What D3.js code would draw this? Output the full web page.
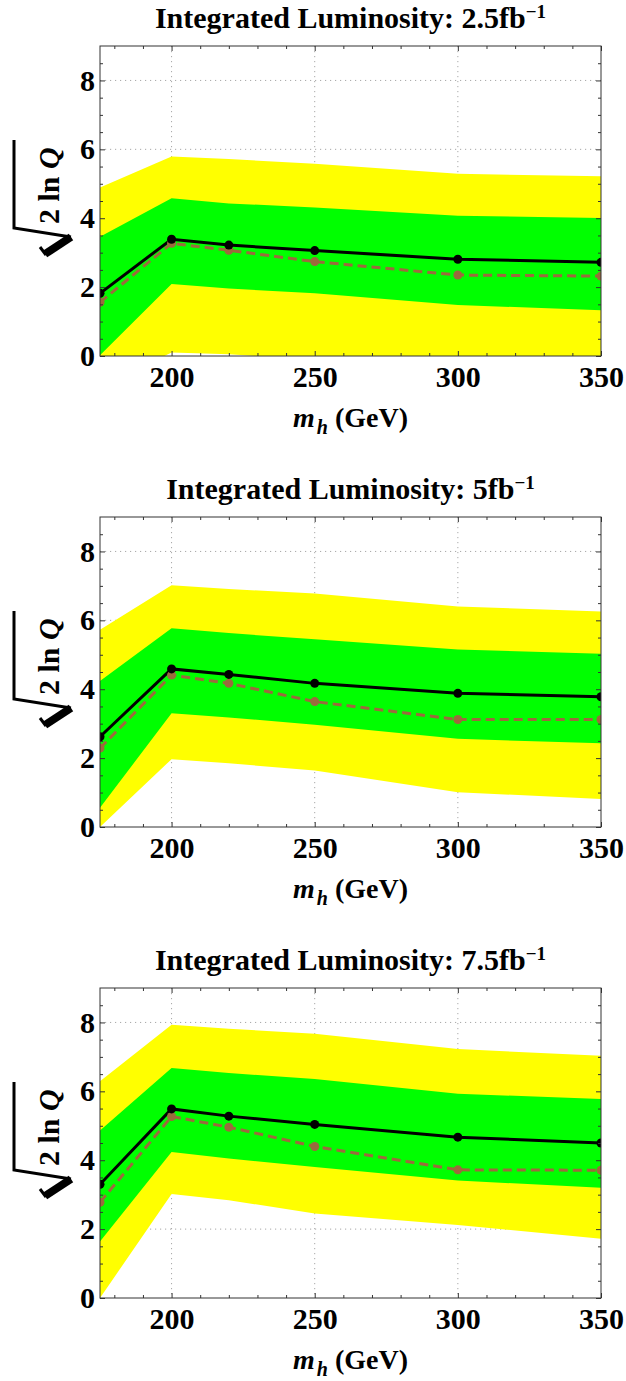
<!DOCTYPE html>
<html lang="en">
<head>
<meta charset="utf-8">
<title>sqrt(2 ln Q) vs m_h</title>
<script src="https://cdn.jsdelivr.net/npm/d3@7"></script>
<style>
  body { margin: 0; background: #ffffff; }
  .grid line { stroke: #a8a8a8; stroke-width: 1; stroke-dasharray: 1.2,3.8; }
  .tick line { stroke: #333; }
</style>
</head>
<body>
<svg id="chart"></svg>
<script>
// higgs masses (GeV) where the points sit
var masses = [175, 200, 220, 250, 300, 350];
var lumiLabels = ["2.5", "5", "7.5"];

// black solid line, one row per luminosity
var solidLine = [
  [1.82, 3.39, 3.22, 3.06, 2.81, 2.72],
  [2.62, 4.59, 4.43, 4.17, 3.88, 3.78],
  [3.30, 5.49, 5.28, 5.04, 4.67, 4.50]
];
// brown dashed line
var dashedLine = [
  [1.56, 3.27, 3.07, 2.74, 2.35, 2.32],
  [2.29, 4.41, 4.17, 3.64, 3.12, 3.12],
  [2.78, 5.27, 4.96, 4.40, 3.72, 3.71]
];
// 1 sigma band (green)
var greenHi = [
  [3.46, 4.58, 4.43, 4.31, 4.07, 4.01],
  [4.24, 5.77, 5.63, 5.45, 5.15, 5.03],
  [4.86, 6.68, 6.53, 6.36, 5.93, 5.78]
];
var greenLo = [
  [0.02, 2.09, 1.96, 1.82, 1.48, 1.33],
  [0.56, 3.30, 3.18, 2.97, 2.56, 2.43],
  [1.64, 4.24, 4.05, 3.80, 3.41, 3.20]
];
// 2 sigma band (yellow)
var yellowHi = [
  [4.89, 5.79, 5.72, 5.58, 5.29, 5.22],
  [5.73, 7.02, 6.91, 6.78, 6.40, 6.26],
  [6.29, 7.93, 7.82, 7.67, 7.23, 7.03]
];
var yellowLo = [
  [-0.9, 0.10, 0.05, -0.10, -0.30, -0.50],
  [0.00, 1.97, 1.85, 1.64, 1.01, 0.81],
  [0.00, 3.02, 2.84, 2.45, 2.12, 1.72]
];

var xMajor = [200, 250, 300, 350];
var yMajor = [0, 2, 4, 6, 8];

var FONT = "'Liberation Serif', 'Times New Roman', Times, serif";

var svgWidth = 626, svgHeight = 1381;
var margin = { top: 46, left: 100 };
var width = 501, height = 310;
var panelStep = 471;

var svg = d3.select("#chart")
    .attr("width", svgWidth)
    .attr("height", svgHeight);

var xScale = d3.scaleLinear().domain([175, 350]).range([0, width]);
var yScale = d3.scaleLinear().domain([0, 9]).range([height, 0]);

var xMinor = d3.range(180, 350, 10).filter(function(v) { return xMajor.indexOf(v) < 0; });
var yMinor = d3.range(0.5, 9, 0.5).filter(function(v) { return yMajor.indexOf(v) < 0; });

lumiLabels.forEach(function(lumi, p) {
  var top = margin.top + p * panelStep;

  var g = svg.append("g")
      .attr("transform", "translate(" + margin.left + "," + top + ")");

  g.append("clipPath").attr("id", "clip" + p)
    .append("rect").attr("width", width).attr("height", height);

  // grid lines
  var grid = g.append("g").attr("class", "grid");
  grid.selectAll("line.gx").data([200, 250, 300]).enter().append("line")
      .attr("x1", function(d) { return xScale(d); })
      .attr("x2", function(d) { return xScale(d); })
      .attr("y1", 0).attr("y2", height);
  grid.selectAll("line.gy").data([2, 4, 6, 8]).enter().append("line")
      .attr("y1", function(d) { return yScale(d); })
      .attr("y2", function(d) { return yScale(d); })
      .attr("x1", 0).attr("x2", width);

  var plot = g.append("g").attr("clip-path", "url(#clip" + p + ")");

  function band(lo, hi) {
    return d3.area()
      .x(function(d, i) { return xScale(masses[i]); })
      .y0(function(d, i) { return yScale(lo[i]); })
      .y1(function(d, i) { return yScale(hi[i]); })(masses);
  }

  plot.append("path").attr("d", band(yellowLo[p], yellowHi[p])).attr("fill", "#ffff00");
  plot.append("path").attr("d", band(greenLo[p], greenHi[p])).attr("fill", "#00ff00");

  var line = d3.line()
      .x(function(d, i) { return xScale(masses[i]); })
      .y(function(d) { return yScale(d); });

  plot.append("path").attr("d", line(dashedLine[p]))
      .attr("fill", "none").attr("stroke", "#9b6a3d")
      .attr("stroke-width", 3).attr("stroke-dasharray", "9,5");
  plot.append("path").attr("d", line(solidLine[p]))
      .attr("fill", "none").attr("stroke", "#000")
      .attr("stroke-width", 3);

  plot.selectAll("circle.dash").data(dashedLine[p]).enter().append("circle")
      .attr("cx", function(d, i) { return xScale(masses[i]); })
      .attr("cy", function(d) { return yScale(d); })
      .attr("r", 4.5).attr("fill", "#9b6a3d");
  plot.selectAll("circle.solid").data(solidLine[p]).enter().append("circle")
      .attr("cx", function(d, i) { return xScale(masses[i]); })
      .attr("cy", function(d) { return yScale(d); })
      .attr("r", 4.5).attr("fill", "#000");

  // ticks on all four sides
  function addAxis(axis, tf, labels) {
    var a = g.append("g").attr("transform", tf).call(axis)
        .attr("font-family", FONT).attr("font-weight", "bold").attr("font-size", 30);
    a.select(".domain").remove();
    a.selectAll("text").attr("fill", "#000");
    if (!labels) a.selectAll("text").remove();
  }
  addAxis(d3.axisBottom(xScale).tickValues(xMajor).tickSize(-5).tickPadding(10), "translate(0," + height + ")", true);
  addAxis(d3.axisBottom(xScale).tickValues(xMinor).tickSize(-3), "translate(0," + height + ")", false);
  addAxis(d3.axisTop(xScale).tickValues(xMajor).tickSize(-5), "translate(0,0)", false);
  addAxis(d3.axisTop(xScale).tickValues(xMinor).tickSize(-3), "translate(0,0)", false);
  addAxis(d3.axisLeft(yScale).tickValues(yMajor).tickSize(-5).tickPadding(5), "translate(0,0)", true);
  addAxis(d3.axisLeft(yScale).tickValues(yMinor).tickSize(-3), "translate(0,0)", false);
  addAxis(d3.axisRight(yScale).tickValues(yMajor).tickSize(-5), "translate(" + width + ",0)", false);
  addAxis(d3.axisRight(yScale).tickValues(yMinor).tickSize(-3), "translate(" + width + ",0)", false);

  // frame
  g.append("rect").attr("width", width).attr("height", height)
      .attr("fill", "none").attr("stroke", "#333").attr("stroke-width", 1);

  // title
  var title = g.append("text")
      .attr("x", width / 2).attr("y", -18)
      .attr("text-anchor", "middle")
      .attr("font-family", FONT).attr("font-weight", "bold")
      .attr("font-size", 30);
  title.append("tspan").text("Integrated Luminosity: " + lumi + "fb");
  title.append("tspan").attr("dy", -10).attr("font-size", 19).text("\u22121");

  // x label
  var xl = g.append("text")
      .attr("x", width / 2).attr("y", height + 71)
      .attr("text-anchor", "middle")
      .attr("font-family", FONT).attr("font-weight", "bold")
      .attr("font-size", 28);
  xl.append("tspan").attr("font-style", "italic").text("m");
  xl.append("tspan").attr("dx", 2).attr("dy", 7).attr("font-style", "italic").attr("font-size", 20).text("h");
  xl.append("tspan").attr("dy", -7).text(" (GeV)");

  // y label: radical sign + 2 ln Q
  var yl = svg.append("g").attr("transform", "translate(0," + (p * panelStep) + ")");
  yl.append("path")
      .attr("d", "M14,140 L14,228 L71,237")
      .attr("fill", "none").attr("stroke", "#000").attr("stroke-width", 3);
  yl.append("path")
      .attr("d", "M71,237 L45,254")
      .attr("fill", "none").attr("stroke", "#000").attr("stroke-width", 8);
  yl.append("path")
      .attr("d", "M46,255 L40,247")
      .attr("fill", "none").attr("stroke", "#000").attr("stroke-width", 3);
  var yt = yl.append("text")
      .attr("transform", "translate(59,224) rotate(-90)")
      .attr("font-family", FONT).attr("font-weight", "bold")
      .attr("font-size", 30);
  yt.append("tspan").text("2 ln ");
  yt.append("tspan").attr("font-style", "italic").text("Q");
});
</script>
</body>
</html>
